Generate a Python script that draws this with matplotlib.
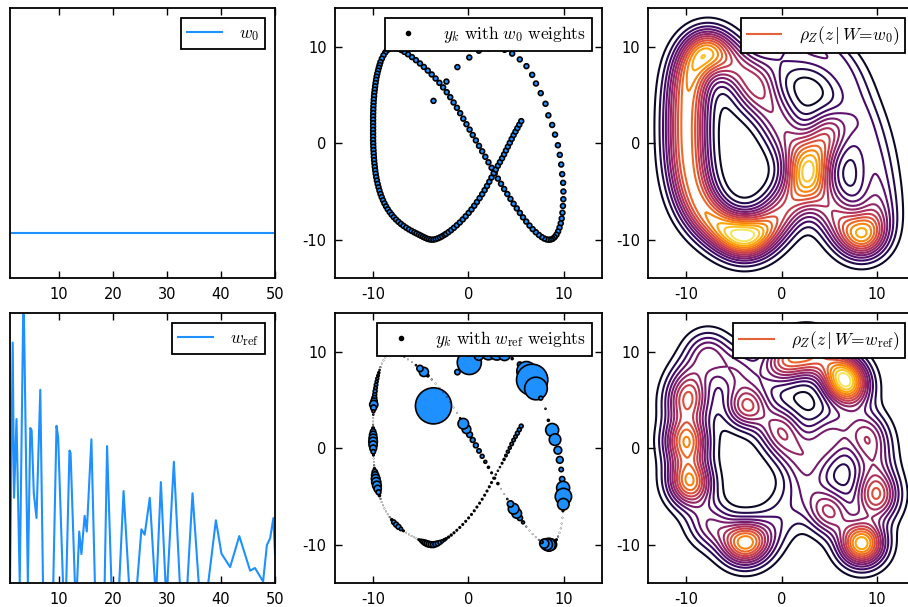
import numpy as np
import matplotlib.pyplot as plt
from matplotlib.lines import Line2D

plt.rcParams.update({
    "font.family": "DejaVu Sans",
    "font.size": 10,
    "mathtext.fontset": "cm",
    "axes.unicode_minus": False,
    "axes.linewidth": 1.3,
    "xtick.direction": "in",
    "ytick.direction": "in",
    "xtick.top": True,
    "ytick.right": True,
    "xtick.major.size": 5,
    "ytick.major.size": 5,
    "xtick.major.width": 1.0,
    "ytick.major.width": 1.0,
    "xtick.major.pad": 6,
    "ytick.major.pad": 6,
    "xtick.labelsize": 10.5,
    "ytick.labelsize": 10.5,
    "legend.fontsize": 12.5,
})

# ---- sample points y_k (in path order) and reference weights (units of w0) ----
yk_x = [
    -3.66, -2.3, -1.15, 0.1, 1.1, 2.1, 3.0, 3.8, 4.6, 5.4, 6.1, 6.7, 7.1, 7.6, 8.1, 8.4,
    8.8, 9.1, 9.4, 9.6, 9.75, 9.85, 9.95, 9.98, 9.97, 9.93, 9.88, 9.8, 9.7, 9.57, 9.42,
    9.25, 9.06, 8.86, 8.66, 8.45,
    8.22, 7.97, 7.7, 7.4, 7.08, 6.75, 6.42, 6.08, 5.74, 5.41, 5.08, 4.75, 4.42, 4.09,
    3.76, 3.43, 3.1, 2.77, 2.44, 2.11, 1.78, 1.45, 1.12, 0.79, 0.46, 0.13, -0.2, -0.53,
    -0.86, -1.2, -1.55, -1.9, -2.27, -2.65, -3.04, -3.44, -3.85, -4.26, -4.67, -5.08,
    -5.5, -5.92, -6.34, -6.72, -7.05, -7.32, -7.55, -7.75,
    -8.0, -8.25, -8.5, -8.72, -8.91, -9.08, -9.23,
    -9.32, -9.4, -9.48, -9.56, -9.63, -9.69, -9.74, -9.79, -9.83, -9.87, -9.9,
    -9.93, -9.95, -9.97, -9.98, -9.99, -10.0, -10.0, -10.0, -10.0, -10.0, -10.0, -10.0,
    -10.0, -9.99, -9.98, -9.96, -9.94, -9.92, -9.89, -9.86, -9.82, -9.78, -9.73, -9.67,
    -9.6, -9.52, -9.43, -9.33, -9.22, -9.1, -8.96, -8.81, -8.64, -8.46, -8.26, -8.05,
    -7.83, -7.59, -7.34, -7.08, -6.81, -6.53, -6.24, -5.95, -5.68, -5.44,
    -5.2, -4.98, -4.77, -4.56, -4.35, -4.13, -3.9, -3.67, -3.44, -3.21, -2.98, -2.75,
    -2.52,
    -2.34, -2.08, -1.8, -1.51, -1.21, -0.9, -0.59, -0.28, 0.03, 0.33, 0.62, 0.9, 1.18,
    1.45, 1.71, 1.96, 2.2, 2.43,
    2.66, 2.88, 3.1, 3.32, 3.54, 3.75, 3.95, 4.15, 4.35, 4.55, 4.75, 4.95, 5.15, 5.35, 5.55,
]
yk_y = [
    4.4, 6.4, 7.9, 8.9, 9.6, 9.85, 9.9, 9.7, 9.3, 8.7, 8.0, 7.1, 6.2, 5.2, 4.1, 2.9,
    1.9, 0.9, -0.2, -1.2, -2.2, -3.2, -4.1, -5.0, -5.8, -6.5, -7.2, -7.8, -8.3, -8.75, -9.15,
    -9.48, -9.73, -9.9, -9.98, -10.0,
    -9.97, -9.88, -9.72, -9.5, -9.22, -8.9, -8.53, -8.12, -7.68, -7.22, -6.75, -6.27, -5.77, -5.26,
    -4.74, -4.2, -3.66, -3.1, -2.54, -1.97, -1.4, -0.83, -0.27, 0.3, 0.86, 1.42, 1.98, 2.55,
    3.12, 3.68, 4.23, 4.78, 5.3, 5.8, 6.27, 6.72, 7.14, 7.54, 7.92, 8.28,
    8.62, 8.94, 9.23, 9.48, 9.68, 9.82, 9.92, 9.98,
    9.98, 9.86, 9.67, 9.42, 9.12, 8.78, 8.42,
    8.12, 7.84, 7.54, 7.23, 6.91, 6.58, 6.25, 5.91, 5.57, 5.23, 4.89,
    4.54, 4.19, 3.84, 3.49, 3.14, 2.79, 2.44, 2.09, 1.74, 1.39, 1.04, 0.69,
    0.34, -0.01, -0.36, -0.71, -1.06, -1.41, -1.76, -2.11, -2.46, -2.81, -3.16, -3.51,
    -3.86, -4.21, -4.56, -4.91, -5.25, -5.58, -5.91, -6.23, -6.54, -6.84, -7.13, -7.4,
    -7.66, -7.91, -8.14, -8.36, -8.56, -8.75, -8.93, -9.09, -9.23, -9.35,
    -9.47, -9.58, -9.69, -9.79, -9.88, -9.95, -9.99, -9.99, -9.94, -9.86, -9.76, -9.64,
    -9.5,
    -9.39, -9.21, -9.0, -8.76, -8.5, -8.21, -7.9, -7.57, -7.22, -6.86, -6.48, -6.09, -5.69,
    -5.28, -4.86, -4.43, -3.99, -3.55,
    -3.1, -2.72, -2.33, -1.95, -1.55, -1.15, -0.75, -0.35, 0.05, 0.45, 0.85, 1.21, 1.57, 1.93, 2.3,
]
w_ref_pts = [
    7.5, 0.0, 1.1, 5.0, 1.9, 2.7, 3.0, 2.4, 0.4, 1.0, 4.0, 6.5, 4.7, 0.8, 0.2, 0.4,
    2.7, 2.4, 1.6, 1.4, 0.9, 1.1, 2.7, 3.4, 2.4, 0.3, 0.05, 0.05, 0.05, 0.05, 0.1,
    0.3, 0.6, 1.4, 2.4, 2.7,
    2.4, 1.9, 0.6, 0.1, 0.05, 0.05, 0.05, 0.1, 0.6, 1.1, 2.0, 2.2, 1.3, 0.2,
    0.05, 0.05, 0.4, 0.3, 0.3, 0.4, 0.6, 0.8, 0.9, 1.0, 1.0, 1.2, 1.8, 2.2,
    0.2, 0.05, 0.05, 0.05, 0.05, 0.05, 0.05, 0.05, 0.1, 0.5, 1.9, 1.3,
    0.2, 0.05, 0.05, 0.1, 0.3, 0.6, 0.9, 1.0,
    1.0, 0.6, 0.1, 0.05, 0.05, 0.05, 0.1,
    0.2, 0.4, 0.5, 0.6, 0.6, 0.7, 0.7, 0.8, 0.8, 1.0, 1.3,
    1.7, 1.2, 0.6, 0.2, 0.05, 0.05, 0.1, 0.5, 1.1, 1.5, 1.7, 1.8,
    1.7, 1.4, 0.9, 0.3, 0.05, 0.05, 0.1, 0.4, 1.1, 1.5, 1.8, 1.9,
    1.8, 1.5, 1.0, 0.4, 0.1, 0.05, 0.05, 0.05, 0.05, 0.05, 0.1, 0.4,
    0.9, 1.0, 1.0, 0.7, 0.3, 0.05, 0.05, 0.05, 0.05, 0.05,
    0.3, 0.6, 0.9, 1.1, 1.2, 1.2, 1.2, 1.2, 1.1, 1.0, 0.8, 0.6,
    0.5,
    0.4, 0.35, 0.35, 0.3, 0.3, 0.3, 0.3, 0.3, 0.3, 0.3, 0.3, 0.3, 0.3,
    0.3, 0.3, 0.3, 0.3, 0.3,
    0.3, 0.2, 0.2, 0.2, 0.3, 0.4, 0.5, 0.6, 0.6, 0.7, 0.7, 0.7, 0.8, 0.8, 0.8,
]
W0 = 1.0

# ---- reference weight curve over t (units of w0) ----
t_ref = [1.0, 1.5, 1.75, 2.2, 2.8, 3.5, 4.3, 4.75, 5.0, 5.4, 5.9, 6.6, 7.1, 9.0, 9.6, 9.9,
         10.8, 11.4, 12.0, 12.2, 13.0, 13.4, 13.8, 14.2, 14.8, 15.2, 16.05, 16.7, 18.5,
         18.95, 19.75, 21.2, 22.0, 23.0, 24.5, 25.3, 25.9, 26.85, 27.8, 28.1, 28.9, 29.75,
         30.1, 31.3, 32.4, 33.8, 34.75, 35.9, 37.65, 39.07, 40.1, 41.7, 43.4, 45.4, 46.3,
         47.8, 48.5, 49.1, 49.7, 50.0]
w_ref_t = [0.0, 5.35, 1.9, 3.65, 0.0, 6.6, 0.0, 3.45, 3.4, 2.0, 1.45, 4.3, 0.0, 0.0, 3.5, 3.25,
           0.0, 0.0, 2.95, 2.9, 0.0, 0.0, 1.15, 0.65, 1.5, 1.15, 3.2, 0.0, 0.0,
           3.05, 0.0, 0.0, 2.05, 0.0, 0.0, 1.2, 1.08, 1.9, 0.0, 0.0, 2.25, 0.0,
           0.0, 2.7, 0.0, 0.0, 2.0, 0.0, 0.0, 1.4, 0.66, 0.36, 1.05, 0.28, 0.34,
           0.04, 0.85, 1.0, 1.45, 0.65]

BLUE = "#1E90FF"
S0 = 12.0
SIGMA = 1.55
N_LEVELS = 15

px = np.array(yk_x)
py = np.array(yk_y)
wr = np.array(w_ref_pts)

W, H = 908, 607
fig = plt.figure(figsize=(W / 100, H / 100), dpi=100)


def box(x0, y0, x1, y1):
    return [x0 / W, 1 - y1 / H, (x1 - x0) / W, (y1 - y0) / H]


cols = [(10, 275), (335, 601.7), (648.3, 915)]
rows = [(8.3, 278.3), (313.3, 583.3)]
axes = [[fig.add_axes(box(c[0], r[0], c[1], r[1])) for c in cols] for r in rows]

gx = np.linspace(-14, 14, 240)
GX, GY = np.meshgrid(gx, gx)


def density(weights):
    d2 = (GX[..., None] - px) ** 2 + (GY[..., None] - py) ** 2
    return (np.exp(-d2 / (2 * SIGMA ** 2)) * weights).sum(axis=-1)


def legend(ax, handle, label):
    leg = ax.legend([handle], [label], loc="upper right", fancybox=False,
                    framealpha=1, edgecolor="black", borderaxespad=0.55,
                    handlelength=2.0, handletextpad=1.0, borderpad=0.35)
    leg.get_frame().set_linewidth(1.3)


for r, (wts, wlab) in enumerate([(np.full_like(px, W0), "w_0"), (wr, r"w_{\mathrm{ref}}")]):
    # weights vs t
    ax = axes[r][0]
    if r == 0:
        ax.plot([1, 50], [W0, W0], color=BLUE, lw=1.5)
    else:
        ax.plot(t_ref, w_ref_t, color=BLUE, lw=1.5)
    ax.set_xlim(1, 50)
    ax.set_ylim(0, 6 * W0)
    ax.set_xticks([10, 20, 30, 40, 50])
    ax.set_yticks([])
    legend(ax, Line2D([], [], color=BLUE, lw=1.5), f"${wlab}$")

    # weighted samples
    ax = axes[r][1]
    ax.scatter(px, py, s=S0 * (wts / W0) ** 2, c=BLUE, edgecolors="black",
               linewidths=1.2, zorder=2)
    legend(ax, Line2D([], [], marker="o", color="black", ls="", markersize=3),
           rf"$y_k\ \mathrm{{with}}\ {wlab}\ \mathrm{{weights}}$")

    # weighted density
    ax = axes[r][2]
    Z = density(wts)
    levels = np.linspace(0, Z.max(), N_LEVELS + 1)[1:]
    ax.contour(GX, GY, Z, levels=levels, cmap="inferno", vmin=0, vmax=Z.max(),
               linewidths=1.5)
    legend(ax, Line2D([], [], color="#e6603a", lw=1.5),
           rf"$\rho_Z(z\,|\,W\!=\!{wlab})$")

    for ax in axes[r][1:]:
        ax.set_xlim(-14, 14)
        ax.set_ylim(-14, 14)
        ax.set_xticks([-10, 0, 10])
        ax.set_yticks([-10, 0, 10])

fig.savefig("out.png", dpi=100)
